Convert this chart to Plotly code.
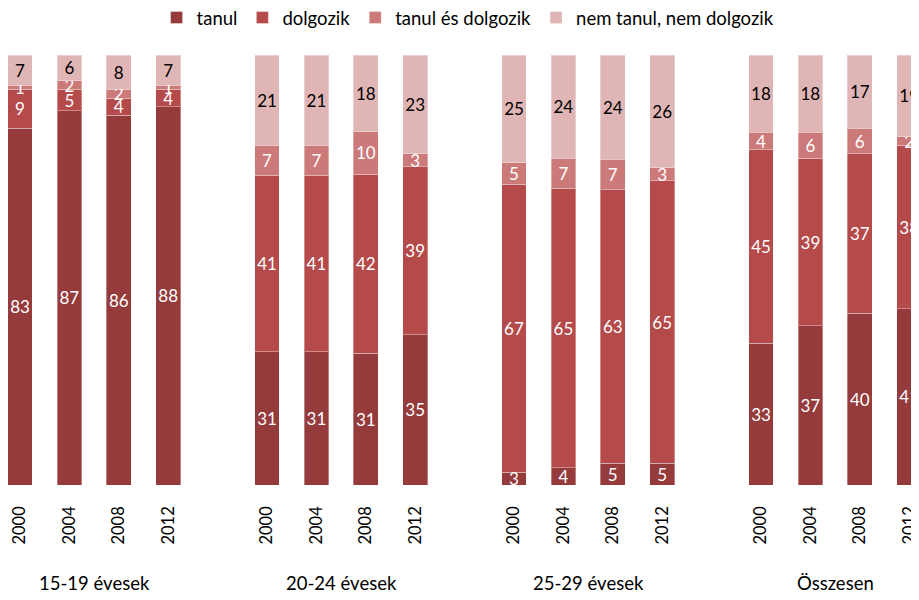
import plotly.graph_objects as go

groups = ["15-19 évesek", "20-24 évesek", "25-29 évesek", "Összesen"]
years = ["2000", "2004", "2008", "2012"]

tanul = [83, 87, 86, 88, 31, 31, 31, 35, 3, 4, 5, 5, 33, 37, 40, 41]
dolgozik = [9, 5, 4, 4, 41, 41, 42, 39, 67, 65, 63, 65, 45, 39, 37, 38]
tanul_es_dolgozik = [1, 2, 2, 1, 7, 7, 10, 3, 5, 7, 7, 3, 4, 6, 6, 2]
nem_tanul_nem_dolgozik = [7, 6, 8, 7, 21, 21, 18, 23, 25, 24, 24, 26, 18, 18, 17, 19]

series = [
    ("tanul", tanul, "#953b3c", "white"),
    ("dolgozik", dolgozik, "#b54a4a", "white"),
    ("tanul és dolgozik", tanul_es_dolgozik, "#cc7a79", "white"),
    ("nem tanul, nem dolgozik", nem_tanul_nem_dolgozik, "#e0b5b5", "black"),
]

# x positions: 4 bars per group, one empty slot between groups
xpos = [g * 5 + i for g in range(len(groups)) for i in range(len(years))]
ticktext = [y for _ in groups for y in years]

FONT = "Lato"

fig = go.Figure()
for name, vals, color, tcolor in series:
    fig.add_trace(go.Bar(
        x=xpos, y=vals, name=name,
        marker=dict(color=color, line=dict(color="rgba(255,255,255,0.35)", width=1)),
        width=0.5,
        text=[str(v) for v in vals],
        textposition="inside",
        insidetextanchor="middle",
        constraintext="none",
        textangle=0,
        textfont=dict(color=tcolor, size=17, family=FONT),
        hoverinfo="skip",
    ))

annotations = [
    dict(x=g * 5 + 1.5, y=-0.228, xref="x", yref="paper", text=groups[g],
         showarrow=False, font=dict(size=18.5, family=FONT, color="black"),
         xanchor="center", yanchor="middle")
    for g in range(len(groups))
]

fig.update_layout(
    barmode="stack",
    barnorm="percent",
    width=911, height=592,
    margin=dict(l=0, r=0, t=47, b=115, autoexpand=False),
    plot_bgcolor="white", paper_bgcolor="white",
    showlegend=True,
    legend=dict(orientation="h", x=0.505, xanchor="center",
                y=0.983, yanchor="middle", yref="container",
                font=dict(size=18.5, family=FONT, color="black"),
                itemwidth=30, traceorder="normal"),
    xaxis=dict(range=[-0.243, 18.198], tickvals=xpos, ticktext=ticktext,
               tickangle=-90, showgrid=False, zeroline=False, showline=False,
               ticks="", tickfont=dict(size=16.5, family=FONT, color="black"),
               ticklabelstandoff=17, automargin=False),
    yaxis=dict(range=[0, 100], visible=False, automargin=False),
    annotations=annotations,
)

fig.write_html("out.html")
